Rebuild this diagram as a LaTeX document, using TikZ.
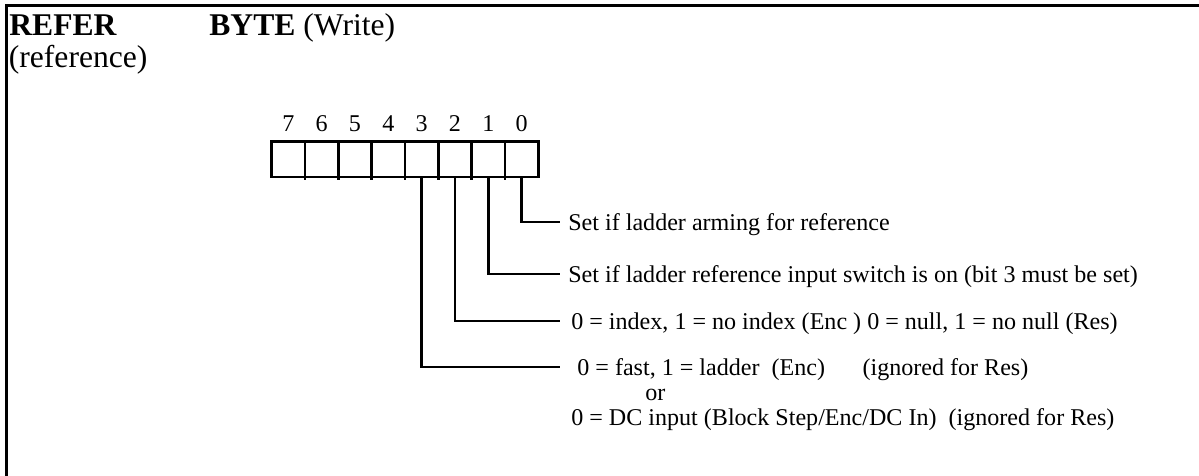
\documentclass[tikz,border=0pt]{standalone}
\usepackage{fontspec}
\setmainfont{Liberation Serif}
\usetikzlibrary{positioning,chains}
\tikzset{
  bitcell/.style={draw, line width=1.5pt, minimum width=0.6667cm, minimum height=0.706cm,
                  inner sep=0pt, outer sep=0pt},
  bitnum/.style={font=\fontsize{13.7}{16}\selectfont, inner sep=0pt, outer sep=0pt, text depth=0pt},
  lbl/.style={font=\fontsize{13.7}{16}\selectfont, anchor=west, inner xsep=0.16cm, inner ysep=0pt,
              text height=9.3pt, text depth=0pt},
  hdr/.style={font=\fontsize{18}{22}\selectfont, anchor=base west, inner sep=0pt},
  leader/.style={line width=1.5pt},
  frame/.style={line width=1.5pt}
}

\begin{document}
\begin{tikzpicture}[x=0.02cm, y=-0.02cm, start chain=going right, node distance=0pt]
\useasboundingbox (0,0) rectangle (1199,476);
\draw[frame] (6.5,476) -- (6.5,5.5) -- (1199,5.5);
% header
\node[hdr] (name) at (9,36) {\textbf{REFER}};
\node[hdr] (kind) at (209,36) {\textbf{BYTE} (Write)};
\node[hdr] (alias) at (8.5,68) {(reference)};
% bit cells 7..0
\node[bitcell, on chain] (b7) at (288.3,159.3) {};
\foreach \b in {6,...,0}
  \node[bitcell, on chain] (b\b) {};
\foreach \b in {7,...,0}
  \node[bitnum, above=0.2cm of b\b] (n\b) {\b};
\foreach \b in {6,...,0}
  \draw[leader] (b\b.south west) -- ++(0,3);
% meaning of each bit
\node[lbl] (t0) at (560,222) {Set if ladder arming for reference};
\node[lbl] (t1) at (560,274) {Set if ladder reference input switch is on (bit 3 must be set)};
\node[lbl] (t2) at (560,321) {\hspace{0.06cm}0 = index, 1 = no index (Enc ) 0 = null, 1 = no null (Res)};
\node[lbl] (t3) at (560,367) {\hspace{0.18cm}0 = fast, 1 = ladder\ \ (Enc)\hspace{0.75cm}(ignored for Res)};
\node[lbl] (t3or) at (637,392) {or};
\node[lbl] (t3dc) at (560,417) {\hspace{0.06cm}0 = DC input (Block Step/Enc/DC In)\ \ (ignored for Res)};
\draw[leader] (b0.south) |- (t0.west);
\draw[leader] (b1.south) |- (t1.west);
\draw[leader] (b2.south) |- (t2.west);
\draw[leader] (b3.south) |- (t3.west);
\end{tikzpicture}
\end{document}
